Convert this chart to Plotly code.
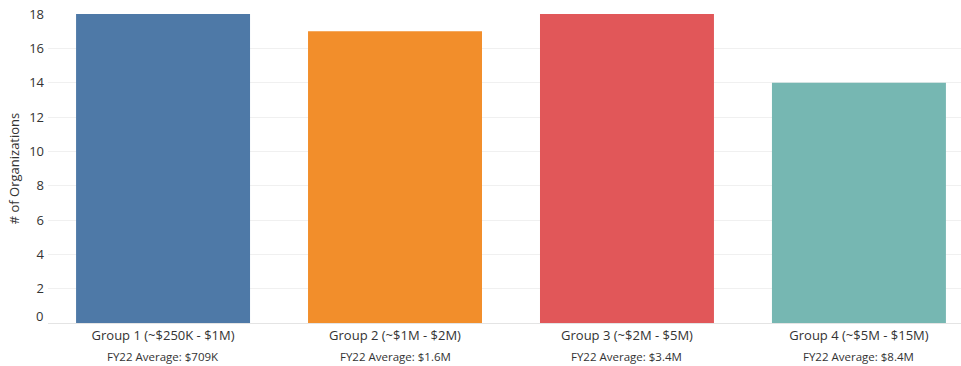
import plotly.graph_objects as go

# Organization counts by budget group
groups = ["Group 1 (~$250K - $1M)", "Group 2 (~$1M - $2M)",
          "Group 3 (~$2M - $5M)", "Group 4 (~$5M - $15M)"]
counts = [18, 17, 18, 14]
averages = ["FY22 Average: $709K", "FY22 Average: $1.6M",
            "FY22 Average: $3.4M", "FY22 Average: $8.4M"]
colors = ["#4e79a7", "#f28e2b", "#e15759", "#76b7b2"]
y_ticks = [0, 2, 4, 6, 8, 10, 12, 14, 16, 18]

FONT = "Open Sans"
TEXT = "#333333"

fig = go.Figure(
    go.Bar(
        x=groups,
        y=counts,
        marker=dict(color=colors, line=dict(width=0)),
        width=0.75,
        hoverinfo="x+y",
    )
)

# Second line under each category: average budget
annotations = [
    dict(
        x=g, y=0, xref="x", yref="paper",
        text=a, showarrow=False,
        yanchor="middle", yshift=-33,
        font=dict(family=FONT, size=11.5, color=TEXT),
    )
    for g, a in zip(groups, averages)
]
# The zero label sits just above the baseline
annotations.append(
    dict(
        x=0, y=0, xref="paper", yref="y",
        text="0", showarrow=False,
        xanchor="right", yanchor="middle",
        xshift=-3, yshift=7,
        font=dict(family=FONT, size=13, color=TEXT),
    )
)

fig.update_layout(
    width=961,
    height=366,
    margin=dict(l=48, r=0, t=14, b=43),
    paper_bgcolor="white",
    plot_bgcolor="white",
    showlegend=False,
    font=dict(family=FONT, size=13, color=TEXT),
    annotations=annotations,
    xaxis=dict(
        type="category",
        range=[-0.496, 3.44],
        showgrid=False,
        showline=True,
        linecolor="#e4e4e4",
        linewidth=1,
        ticks="",
        tickfont=dict(family=FONT, size=13, color=TEXT),
    ),
    yaxis=dict(
        range=[0, 18],
        tickvals=y_ticks,
        ticktext=["" if v == 0 else str(v) for v in y_ticks],
        showgrid=True,
        gridcolor="#f0f0f0",
        gridwidth=1,
        zeroline=False,
        ticks="",
        ticklabelstandoff=3,
        tickfont=dict(family=FONT, size=13, color=TEXT),
        title=dict(text="# of Organizations", standoff=6,
                   font=dict(family=FONT, size=13, color=TEXT)),
    ),
)

fig.write_html("out.html")
